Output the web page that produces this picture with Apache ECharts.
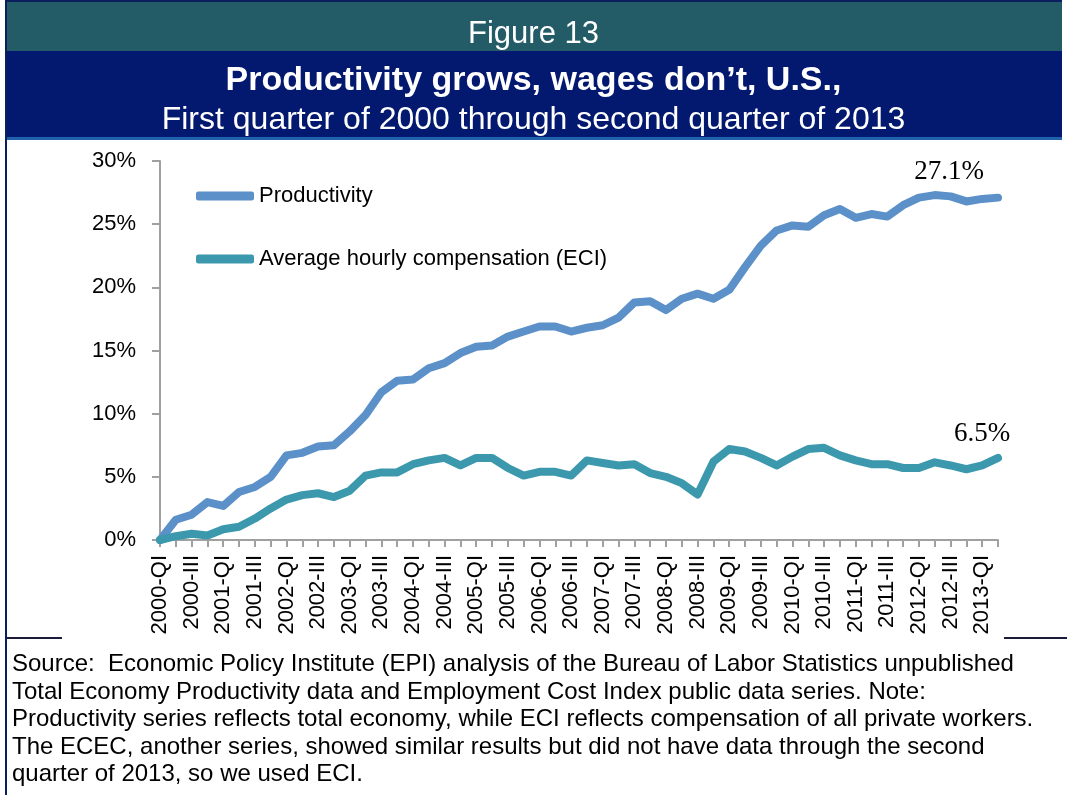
<!DOCTYPE html>
<html>
<head>
<meta charset="utf-8">
<script src="https://cdn.jsdelivr.net/npm/echarts@6/dist/echarts.min.js"></script>
<style>
  html, body { margin: 0; padding: 0; background: #fff; }
  #chart { width: 1067px; height: 795px; }
</style>
</head>
<body>
<div id="chart"></div>
<script>
// quarters 2000-QI .. 2013-QII
var quarterNames = ['QI', 'II', 'III', 'IV'];
var categories = [];
for (var y = 2000; y <= 2013; y++) {
    for (var q = 0; q < 4; q++) {
        if (y === 2013 && q > 1) break;
        categories.push(y + '-' + quarterNames[q]);
    }
}

var productivity = [0.0, 1.6, 2.0, 3.0, 2.7, 3.8, 4.2, 5.0, 6.7, 6.9,
    7.4, 7.5, 8.6, 9.9, 11.7, 12.6, 12.7, 13.6, 14.0, 14.8,
    15.3, 15.4, 16.1, 16.5, 16.9, 16.9, 16.5, 16.8, 17.0, 17.6,
    18.8, 18.9, 18.2, 19.1, 19.5, 19.1, 19.8, 21.6, 23.3, 24.5,
    24.9, 24.8, 25.7, 26.2, 25.5, 25.8, 25.6, 26.5, 27.1, 27.3,
    27.2, 26.8, 27.0, 27.1];

var compensation = [0.0, 0.3, 0.5, 0.35, 0.85, 1.05, 1.7, 2.5, 3.2, 3.55,
    3.7, 3.4, 3.9, 5.1, 5.35, 5.35, 6.0, 6.3, 6.5, 5.9,
    6.5, 6.5, 5.7, 5.1, 5.4, 5.4, 5.1, 6.3, 6.1, 5.9,
    6.0, 5.3, 5.0, 4.5, 3.6, 6.2, 7.2, 7.0, 6.5, 5.9,
    6.6, 7.2, 7.3, 6.7, 6.3, 6.0, 6.0, 5.7, 5.7, 6.15,
    5.9, 5.6, 5.9, 6.5];

var sourceLines = [
    'Source:  Economic Policy Institute (EPI) analysis of the Bureau of Labor Statistics unpublished',
    'Total Economy Productivity data and Employment Cost Index public data series. Note:',
    'Productivity series reflects total economy, while ECI reflects compensation of all private workers.',
    'The ECEC, another series, showed similar results but did not have data through the second',
    'quarter of 2013, so we used ECI.'
];

var prodColor = '#5B90C8';
var eciColor = '#3C99AD';
var last = categories.length - 1;

// value label sitting above the last point
function endMark(arr, offset) {
    return {
        symbol: 'circle',
        symbolSize: 2,
        itemStyle: { color: 'rgba(0,0,0,0)' },
        label: {
            show: true,
            position: 'top',
            offset: offset,
            formatter: function (p) { return p.value + '%'; },
            fontFamily: 'Liberation Serif',
            fontSize: 27,
            color: '#000'
        },
        data: [{ coord: [categories[last], arr[last]], value: arr[last] }]
    };
}

var chart = echarts.init(document.getElementById('chart'));

var option = {
    backgroundColor: '#fff',
    animation: false,
    textStyle: { fontFamily: 'Liberation Sans' },
    grid: {
        left: 160,
        right: 69,
        top: 161,
        bottom: 255
    },
    legend: {
        orient: 'vertical',
        left: 191,
        top: 180,
        itemWidth: 58,
        itemHeight: 9,
        itemGap: 41,
        icon: 'roundRect',
        textStyle: {
            fontSize: 22,
            color: '#000',
            fontFamily: 'Liberation Sans'
        },
        data: ['Productivity', 'Average hourly compensation (ECI)']
    },
    xAxis: {
        type: 'category',
        boundaryGap: false,
        data: categories,
        axisLine: { lineStyle: { color: '#A0A0A0', width: 2 } },
        axisTick: {
            interval: 0,
            length: 7,
            lineStyle: { color: '#A0A0A0', width: 2 }
        },
        axisLabel: {
            interval: 1,
            rotate: 90,
            margin: 15,
            fontSize: 22,
            color: '#000',
            fontFamily: 'Liberation Sans'
        },
        splitLine: { show: false }
    },
    yAxis: {
        type: 'value',
        min: 0,
        max: 30,
        interval: 5,
        axisLine: { show: true, lineStyle: { color: '#A0A0A0', width: 2 } },
        axisTick: { show: true, length: 8, lineStyle: { color: '#A0A0A0', width: 2 } },
        axisLabel: {
            formatter: '{value}%',
            margin: 24,
            fontSize: 22,
            color: '#000',
            fontFamily: 'Liberation Sans'
        },
        splitLine: { show: false }
    },
    series: [{
        name: 'Productivity',
        type: 'line',
        showSymbol: false,
        color: prodColor,
        lineStyle: { width: 8, color: prodColor, cap: 'round', join: 'round' },
        itemStyle: { color: prodColor },
        markPoint: endMark(productivity, [-49, -6]),
        data: productivity
    }, {
        name: 'Average hourly compensation (ECI)',
        type: 'line',
        showSymbol: false,
        color: eciColor,
        lineStyle: { width: 8, color: eciColor, cap: 'round', join: 'round' },
        itemStyle: { color: eciColor },
        markPoint: endMark(compensation, [-16, -4]),
        data: compensation
    }],
    graphic: [
        // header bands
        { type: 'rect', shape: { x: 6, y: 0, width: 1056, height: 51 }, style: { fill: '#235B67' }, z: 100 },
        { type: 'rect', shape: { x: 6, y: 0, width: 1056, height: 2 }, style: { fill: '#0B1F5E' }, z: 101 },
        { type: 'rect', shape: { x: 6, y: 51, width: 1056, height: 86 }, style: { fill: '#03196F' }, z: 100 },
        { type: 'rect', shape: { x: 6, y: 137, width: 1056, height: 3 }, style: { fill: '#2063AC' }, z: 100 },
        // left border
        { type: 'rect', shape: { x: 5, y: 0, width: 2, height: 795 }, style: { fill: '#0B1F5E' }, z: 102 },
        // separator above source note
        { type: 'rect', shape: { x: 6, y: 637, width: 56, height: 2 }, style: { fill: '#1A1A3A' }, z: 100 },
        { type: 'rect', shape: { x: 1004, y: 637, width: 63, height: 2 }, style: { fill: '#1A1A3A' }, z: 100 },
        {
            type: 'text', left: 'center', top: 19, z: 103,
            style: { text: 'Figure 13', fill: '#fff', fontSize: 31, fontFamily: 'Liberation Sans' }
        },
        {
            type: 'text', left: 'center', top: 64, z: 103,
            style: { text: 'Productivity grows, wages don\u2019t, U.S.,', fill: '#fff', fontSize: 34, fontWeight: 'bold', fontFamily: 'Liberation Sans' }
        },
        {
            type: 'text', left: 'center', top: 104, z: 103,
            style: { text: 'First quarter of 2000 through second quarter of 2013', fill: '#fff', fontSize: 32, fontFamily: 'Liberation Sans' }
        },
        {
            type: 'text', left: 12, top: 651, z: 103,
            style: { text: sourceLines.join('\n'), fill: '#000', fontSize: 24, lineHeight: 27.5, fontFamily: 'Liberation Sans' }
        }
    ]
};

chart.setOption(option);
</script>
</body>
</html>
